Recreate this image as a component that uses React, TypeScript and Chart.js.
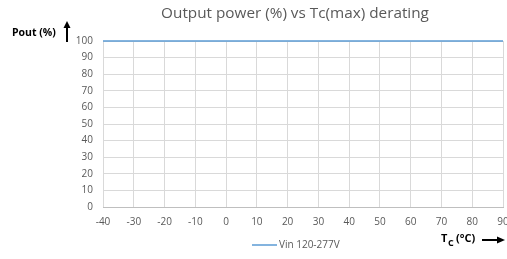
import React, { useEffect, useRef } from "react";
import { Chart, registerables } from "chart.js";

Chart.register(...registerables);

const temps: number[] = [-40, 90];
const poutVin: number[] = [100, 100];
const xTicks: number[] = [-40, -30, -20, -10, 0, 10, 20, 30, 40, 50, 60, 70, 80, 90];
const seriesLabel = "Vin 120-277V";
const titleText = "Output power (%) vs Tc(max) derating";

const FONT = "'Open Sans', 'Liberation Sans', sans-serif";
const GREY = "#595959";
const BLUE = "#5b9bd5";

const annotations = {
  id: "annotations",
  afterDraw(chart: any) {
    const ctx = chart.ctx as CanvasRenderingContext2D;
    ctx.save();
    // title
    ctx.fillStyle = GREY;
    ctx.font = `15.3px ${FONT}`;
    ctx.textAlign = "center";
    ctx.textBaseline = "middle";
    ctx.fillText(titleText, 295, 14);
    // y label
    ctx.fillStyle = "#000";
    ctx.font = `bold 10.5px ${FONT}`;
    ctx.textAlign = "left";
    ctx.fillText("Pout (%)", 12, 33);
    // up arrow
    ctx.strokeStyle = "#000";
    ctx.lineWidth = 2;
    ctx.beginPath();
    ctx.moveTo(67, 42);
    ctx.lineTo(67, 27);
    ctx.stroke();
    ctx.fillStyle = "#000";
    ctx.beginPath();
    ctx.moveTo(67, 21);
    ctx.lineTo(63.5, 28);
    ctx.lineTo(70.5, 28);
    ctx.closePath();
    ctx.fill();
    // x label T_C (°C)
    ctx.font = `bold 11px ${FONT}`;
    ctx.textAlign = "left";
    ctx.fillText("T", 441, 239);
    ctx.font = `bold 9px ${FONT}`;
    ctx.fillText("C", 448, 243);
    ctx.font = `bold 11px ${FONT}`;
    ctx.fillText("(°C)", 456, 239);
    // right arrow
    ctx.beginPath();
    ctx.moveTo(482, 240);
    ctx.lineTo(498, 240);
    ctx.stroke();
    ctx.beginPath();
    ctx.moveTo(505, 240);
    ctx.lineTo(497, 236.5);
    ctx.lineTo(497, 243.5);
    ctx.closePath();
    ctx.fill();
    // legend
    ctx.strokeStyle = BLUE;
    ctx.lineWidth = 1.5;
    ctx.beginPath();
    ctx.moveTo(252, 245);
    ctx.lineTo(277, 245);
    ctx.stroke();
    ctx.fillStyle = GREY;
    ctx.font = `10px ${FONT}`;
    ctx.fillText(seriesLabel, 279, 245);
    ctx.restore();
  },
};

export default function App() {
  const ref = useRef<HTMLCanvasElement | null>(null);
  useEffect(() => {
    document.body.style.margin = "0";
    const chart = new Chart(ref.current as HTMLCanvasElement, {
      type: "line",
      data: {
        datasets: [
          {
            label: seriesLabel,
            data: temps.map((t, i) => ({ x: t, y: poutVin[i] })),
            borderColor: BLUE,
            backgroundColor: BLUE,
            borderWidth: 1.5,
            pointRadius: 0,
            clip: false,
          } as any,
        ],
      },
      options: {
        animation: false,
        responsive: false,
        layout: { padding: { top: 41, right: 4, left: 0, bottom: 0 } },
        plugins: { legend: { display: false }, title: { display: false }, tooltip: { enabled: false } },
        scales: {
          x: {
            type: "linear",
            min: -40,
            max: 90,
            afterBuildTicks: (s: any) => {
              s.ticks = xTicks.map((v) => ({ value: v }));
            },
            afterFit: (s: any) => {
              s.height = 52;
              s.paddingLeft = 0;
              s.paddingRight = 0;
            },
            grid: { color: "#d9d9d9", drawTicks: false },
            border: { color: "#bfbfbf" },
            ticks: { color: GREY, font: { family: FONT, size: 10 }, padding: 9, maxRotation: 0, autoSkip: false },
          },
          y: {
            type: "linear",
            min: 0,
            max: 100,
            afterFit: (s: any) => {
              s.width = 103;
              s.paddingTop = 0;
              s.paddingBottom = 0;
            },
            grid: { color: "#d9d9d9", drawTicks: false },
            border: { display: false },
            ticks: { color: GREY, font: { family: FONT, size: 10 }, padding: 10, stepSize: 10 },
          },
        },
      },
      plugins: [annotations],
    });
    return () => chart.destroy();
  }, []);
  return (
    <div style={{ position: "absolute", left: 0, top: 0, width: 507, height: 259 }}>
      <canvas ref={ref} width={507} height={259} style={{ width: 507, height: 259 }} />
    </div>
  );
}
